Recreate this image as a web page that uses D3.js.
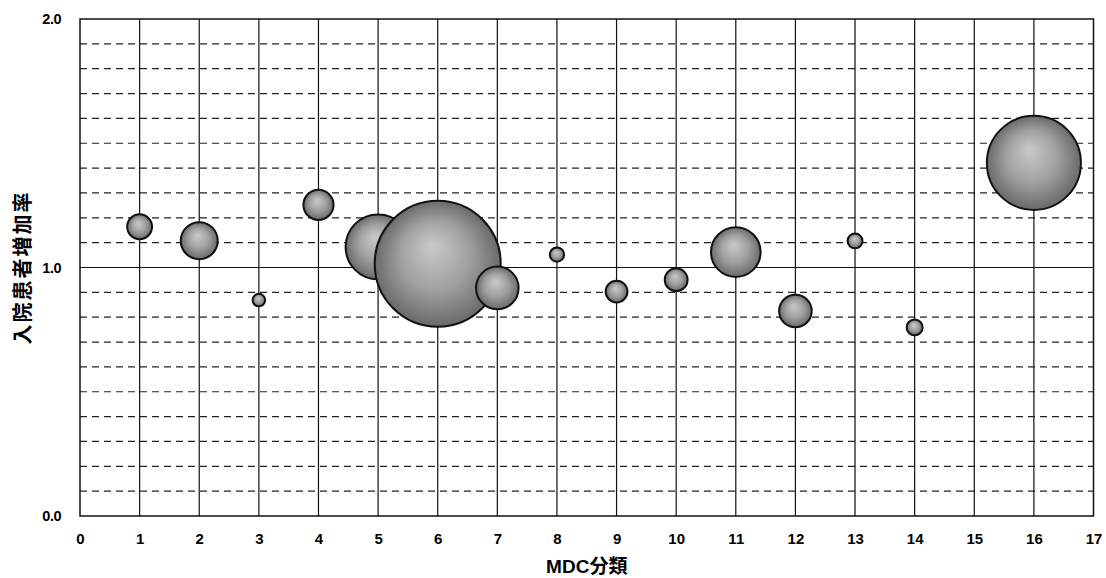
<!DOCTYPE html>
<html>
<head>
<meta charset="utf-8">
<script src="https://cdn.jsdelivr.net/npm/d3@7"></script>
<style>
  html, body { margin: 0; padding: 0; background: #fff; }
  svg { display: block; }
</style>
</head>
<body>
<svg id="chart" width="1106" height="578"></svg>
<script>
// ---- data ----
const mdc = [1, 2, 3, 4, 5, 6, 7, 8, 9, 10, 11, 12, 13, 14, 16];
const rate = [1.164, 1.108, 0.869, 1.252, 1.083, 1.015, 0.918, 1.052, 0.903, 0.951, 1.062, 0.825, 1.107, 0.759, 1.421];
const bubbleSize = [39, 86, 10, 57, 266, 1000, 114, 13, 30, 33, 155, 67, 14, 16, 557];
const xTicks = [0, 1, 2, 3, 4, 5, 6, 7, 8, 9, 10, 11, 12, 13, 14, 15, 16, 17];
const yTicks = [0.0, 1.0, 2.0];
const yGrid = [0.1, 0.2, 0.3, 0.4, 0.5, 0.6, 0.7, 0.8, 0.9, 1.1, 1.2, 1.3, 1.4, 1.5, 1.6, 1.7, 1.8, 1.9];
const xTitle = "MDC分類";
const yTitle = "入院患者増加率";

// ---- layout ----
const pL = 80, pR = 1093.5, pT = 19, pB = 516;
const svg = d3.select("#chart");

const x = d3.scaleLinear().domain([0, 17]).range([pL, pR]);
const y = d3.scaleLinear().domain([0, 2]).range([pB, pT]);
const r = d3.scaleSqrt().domain([0, 1000]).range([0, 63]);

const defs = svg.append("defs");
const grad = defs.append("radialGradient")
  .attr("id", "ball").attr("cx", "50%").attr("cy", "50%").attr("r", "50%")
  .attr("fx", "45%").attr("fy", "35%");
grad.append("stop").attr("offset", "0%").attr("stop-color", "#cacaca");
grad.append("stop").attr("offset", "55%").attr("stop-color", "#a0a0a0");
grad.append("stop").attr("offset", "100%").attr("stop-color", "#6a6a6a");

// horizontal dashed grid
svg.append("g").selectAll("line").data(yGrid).join("line")
  .attr("x1", pL).attr("x2", pR)
  .attr("y1", d => y(d)).attr("y2", d => y(d))
  .attr("stroke", "#222").attr("stroke-width", 1.2)
  .attr("stroke-dasharray", "7,5");

// solid line at 1.0
svg.append("line")
  .attr("x1", pL).attr("x2", pR)
  .attr("y1", y(1)).attr("y2", y(1))
  .attr("stroke", "#111").attr("stroke-width", 1.2);

// vertical solid grid
svg.append("g").selectAll("line").data(xTicks.filter(d => d > 0 && d < 17)).join("line")
  .attr("x1", d => x(d)).attr("x2", d => x(d))
  .attr("y1", pT).attr("y2", pB)
  .attr("stroke", "#111").attr("stroke-width", 1.2);

// plot border
svg.append("rect")
  .attr("x", pL).attr("y", pT)
  .attr("width", pR - pL).attr("height", pB - pT)
  .attr("fill", "none").attr("stroke", "#111").attr("stroke-width", 1.5);

// bubbles
const data = mdc.map((m, i) => ({ m, v: rate[i], s: bubbleSize[i] }));
svg.append("g").selectAll("circle").data(data).join("circle")
  .attr("cx", d => x(d.m)).attr("cy", d => y(d.v)).attr("r", d => r(d.s))
  .attr("fill", "url(#ball)")
  .attr("stroke", "#111").attr("stroke-width", 2);

// axes (labels only)
const xAxis = d3.axisBottom(x).tickValues(xTicks).tickFormat(d3.format("d")).tickSize(0).tickPadding(17);
const gx = svg.append("g").attr("transform", `translate(0,${pB})`).call(xAxis);
gx.select(".domain").remove();
gx.selectAll("text").attr("font-family", "Liberation Sans, Arial, sans-serif")
  .attr("font-size", 15).attr("font-weight", "bold").attr("fill", "#000");

const yAxis = d3.axisLeft(y).tickValues(yTicks).tickFormat(d3.format(".1f")).tickSize(0).tickPadding(19);
const gy = svg.append("g").attr("transform", `translate(${pL},0)`).call(yAxis);
gy.select(".domain").remove();
gy.selectAll("text").attr("font-family", "Liberation Sans, Arial, sans-serif")
  .attr("font-size", 14.5).attr("font-weight", "bold").attr("fill", "#000")
  .attr("letter-spacing", -0.5);

// titles
svg.append("text")
  .attr("x", (pL + pR) / 2).attr("y", 573)
  .attr("text-anchor", "middle")
  .attr("font-family", "Liberation Sans, 'Noto Sans CJK JP', sans-serif")
  .attr("font-size", 19).attr("font-weight", "bold")
  .text(xTitle);

svg.append("text")
  .attr("transform", `translate(30,${(pT + pB) / 2}) rotate(-90)`)
  .attr("text-anchor", "middle")
  .attr("font-family", "'Noto Sans CJK JP', sans-serif")
  .attr("font-size", 20).attr("font-weight", "bold")
  .attr("letter-spacing", 2)
  .text(yTitle);
</script>
</body>
</html>
